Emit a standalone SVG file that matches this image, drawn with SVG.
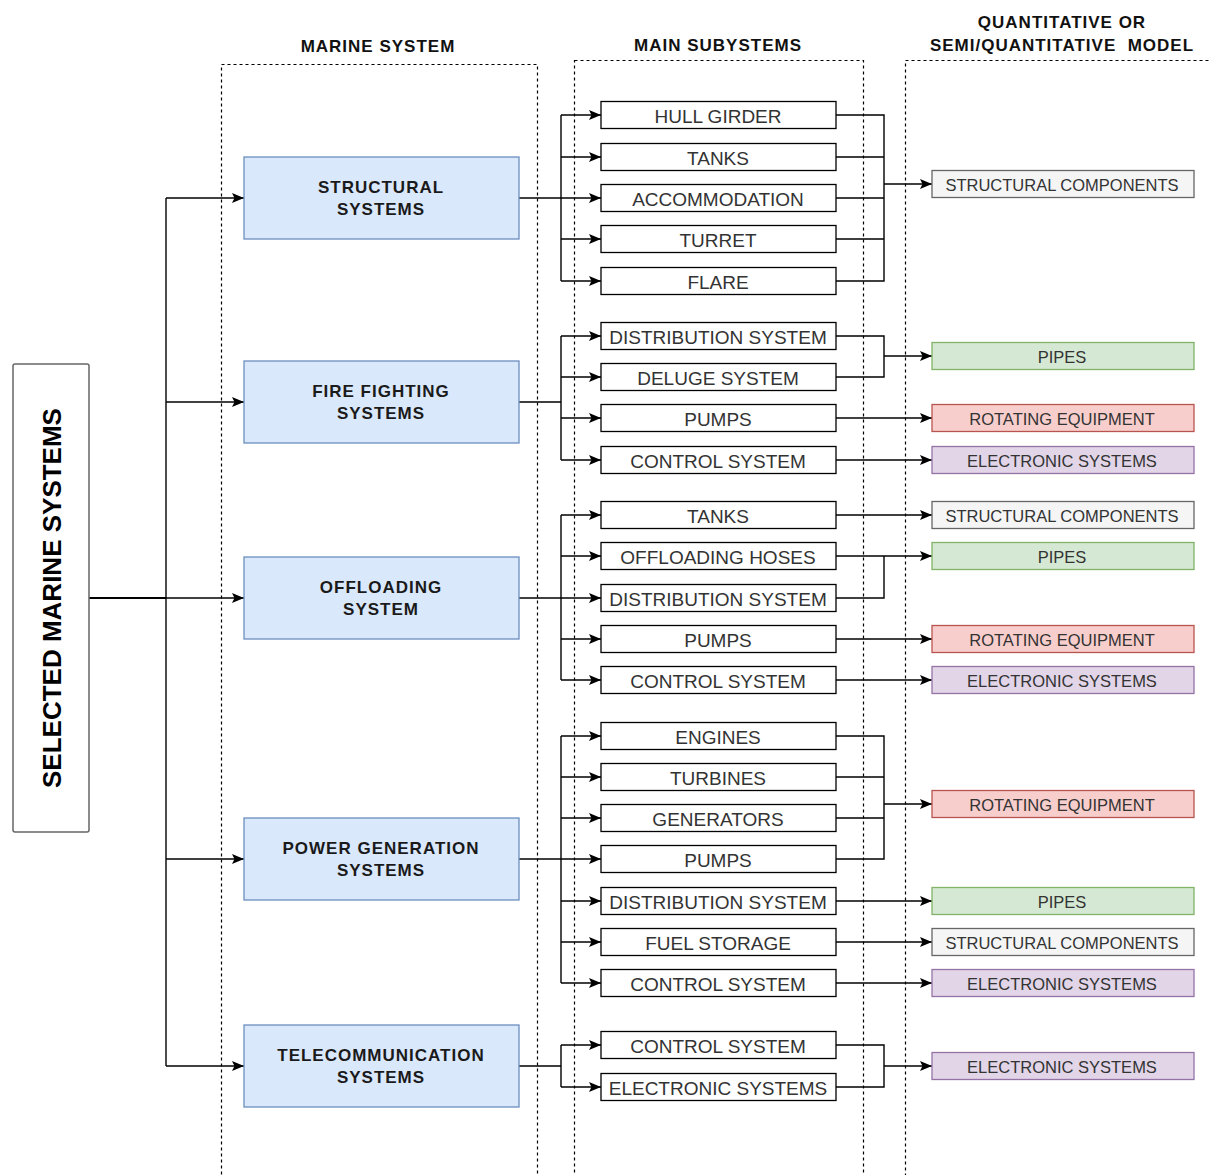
<svg xmlns="http://www.w3.org/2000/svg" width="1211" height="1175" viewBox="0 0 1211 1175">
  <defs>
    <marker id="arr" viewBox="0 0 12 10" refX="12" refY="5" markerWidth="12" markerHeight="10" orient="auto" markerUnits="userSpaceOnUse">
      <path d="M0,0 L12,5 L0,10 L2.5,5 Z" fill="#000"/>
    </marker>
    <style>
      .lane { fill: none; stroke: #000; stroke-width: 1.2; stroke-dasharray: 3 3; }
      .head { font-family: "Liberation Sans", Arial, sans-serif; font-size: 17px; font-weight: bold; letter-spacing: 1px; fill: #111; text-anchor: middle; white-space: pre; }
      .sys rect { fill: #dae8fc; stroke: #6c8ebf; stroke-width: 1.3; }
      .sys text { font-family: "Liberation Sans", Arial, sans-serif; font-size: 17px; font-weight: bold; letter-spacing: 1px; fill: #1a1a1a; text-anchor: middle; dominant-baseline: central; }
      .sub rect { fill: #fff; stroke: #000; stroke-width: 1.3; }
      .sub text { font-family: "Liberation Sans", Arial, sans-serif; font-size: 19px; fill: #333; text-anchor: middle; dominant-baseline: central; }
      .mdl text { font-family: "Liberation Sans", Arial, sans-serif; font-size: 16.5px; fill: #333; text-anchor: middle; dominant-baseline: central; }
      .grey rect { fill: #f5f5f5; stroke: #666; stroke-width: 1.3; }
      .green rect { fill: #d5e8d4; stroke: #82b366; stroke-width: 1.3; }
      .red rect { fill: #f8cecc; stroke: #b85450; stroke-width: 1.3; }
      .purple rect { fill: #e1d5e7; stroke: #9673a6; stroke-width: 1.3; }
      #connectors path { fill: none; stroke: #000; stroke-width: 1.4; }
      #connectors path.arrow { marker-end: url(#arr); }
    </style>
  </defs>

  <rect width="1211" height="1175" fill="#fff"/>

  <!-- column lanes -->
  <g id="lanes">
    <rect class="lane" x="221.5" y="64.5" width="316" height="1130"/>
    <rect class="lane" x="574.5" y="60.5" width="289" height="1134"/>
    <rect class="lane" x="905.5" y="60.5" width="330" height="1134"/>
    <text class="head" x="378" y="52">MARINE SYSTEM</text>
    <text class="head" x="718" y="51">MAIN SUBYSTEMS</text>
    <text class="head" x="1062" y="28">QUANTITATIVE OR</text>
    <text class="head" x="1062" y="51">SEMI/QUANTITATIVE  MODEL</text>
  </g>

  <!-- connectors -->
  <g id="connectors">
    <path d="M89,598 H166" style="stroke-width:2"/>
    <path d="M166,198 V1066"/>
    <path class="arrow" d="M166,198 H244"/>
    <path class="arrow" d="M166,402 H244"/>
    <path class="arrow" d="M166,598 H244"/>
    <path class="arrow" d="M166,859 H244"/>
    <path class="arrow" d="M166,1066 H244"/>

    <!-- structural -->
    <path class="arrow" d="M519,198 H601"/>
    <path d="M561,115 V281"/>
    <path class="arrow" d="M561,115 H601"/>
    <path class="arrow" d="M561,157 H601"/>
    <path class="arrow" d="M561,239 H601"/>
    <path class="arrow" d="M561,281 H601"/>
    <path d="M836,115 H884 V281 H836 M836,157 H884 M836,198 H884 M836,239 H884"/>
    <path class="arrow" d="M884,184 H932"/>

    <!-- fire fighting -->
    <path d="M519,402 H561 M561,336 V460"/>
    <path class="arrow" d="M561,336 H601"/>
    <path class="arrow" d="M561,377 H601"/>
    <path class="arrow" d="M561,418 H601"/>
    <path class="arrow" d="M561,460 H601"/>
    <path d="M836,336 H884 V377 H836"/>
    <path class="arrow" d="M884,356 H932"/>
    <path class="arrow" d="M836,418 H932"/>
    <path class="arrow" d="M836,460 H932"/>

    <!-- offloading -->
    <path class="arrow" d="M519,598 H601"/>
    <path d="M561,515 V680"/>
    <path class="arrow" d="M561,515 H601"/>
    <path class="arrow" d="M561,556 H601"/>
    <path class="arrow" d="M561,639 H601"/>
    <path class="arrow" d="M561,680 H601"/>
    <path class="arrow" d="M836,515 H932"/>
    <path class="arrow" d="M836,556 H932"/>
    <path d="M836,598 H884 V556"/>
    <path class="arrow" d="M836,639 H932"/>
    <path class="arrow" d="M836,680 H932"/>

    <!-- power generation -->
    <path class="arrow" d="M519,859 H601"/>
    <path d="M561,736 V983"/>
    <path class="arrow" d="M561,736 H601"/>
    <path class="arrow" d="M561,777 H601"/>
    <path class="arrow" d="M561,818 H601"/>
    <path class="arrow" d="M561,901 H601"/>
    <path class="arrow" d="M561,942 H601"/>
    <path class="arrow" d="M561,983 H601"/>
    <path d="M836,736 H884 V859 H836 M836,777 H884 M836,818 H884"/>
    <path class="arrow" d="M884,804 H932"/>
    <path class="arrow" d="M836,901 H932"/>
    <path class="arrow" d="M836,942 H932"/>
    <path class="arrow" d="M836,983 H932"/>

    <!-- telecommunication -->
    <path d="M519,1066 H561 M561,1045 V1087"/>
    <path class="arrow" d="M561,1045 H601"/>
    <path class="arrow" d="M561,1087 H601"/>
    <path d="M836,1045 H884 V1087 H836"/>
    <path class="arrow" d="M884,1066 H932"/>
  </g>

  <!-- root -->
  <g id="selected-marine-systems">
    <rect x="13" y="364" width="76" height="468" rx="2" fill="#fff" stroke="#666" stroke-width="1.5"/>
    <text x="52" y="598" transform="rotate(-90 52 598)" font-family="'Liberation Sans', Arial, sans-serif" font-size="26" font-weight="bold" fill="#000" text-anchor="middle" dominant-baseline="central">SELECTED MARINE SYSTEMS</text>
  </g>

  <!-- marine systems -->
  <g id="structural-systems" class="sys">
    <rect x="244" y="157" width="275" height="82"/>
    <text x="381" y="187">STRUCTURAL</text><text x="381" y="209">SYSTEMS</text>
  </g>
  <g id="fire-fighting-systems" class="sys">
    <rect x="244" y="361" width="275" height="82"/>
    <text x="381" y="391">FIRE FIGHTING</text><text x="381" y="413">SYSTEMS</text>
  </g>
  <g id="offloading-system" class="sys">
    <rect x="244" y="557" width="275" height="82"/>
    <text x="381" y="587">OFFLOADING</text><text x="381" y="609">SYSTEM</text>
  </g>
  <g id="power-generation-systems" class="sys">
    <rect x="244" y="818" width="275" height="82"/>
    <text x="381" y="848">POWER GENERATION</text><text x="381" y="870">SYSTEMS</text>
  </g>
  <g id="telecommunication-systems" class="sys">
    <rect x="244" y="1025" width="275" height="82"/>
    <text x="381" y="1055">TELECOMMUNICATION</text><text x="381" y="1077">SYSTEMS</text>
  </g>

  <!-- main subsystems -->
  <g id="s-hull" class="sub"><rect x="601" y="101.5" width="235" height="27"/><text x="718" y="116">HULL GIRDER</text></g>
  <g id="s-tanks" class="sub"><rect x="601" y="143.5" width="235" height="27"/><text x="718" y="158">TANKS</text></g>
  <g id="s-accommodation" class="sub"><rect x="601" y="184.5" width="235" height="27"/><text x="718" y="199">ACCOMMODATION</text></g>
  <g id="s-turret" class="sub"><rect x="601" y="225.5" width="235" height="27"/><text x="718" y="240">TURRET</text></g>
  <g id="s-flare" class="sub"><rect x="601" y="267.5" width="235" height="27"/><text x="718" y="282">FLARE</text></g>

  <g id="f-distribution" class="sub"><rect x="601" y="322.5" width="235" height="27"/><text x="718" y="337">DISTRIBUTION SYSTEM</text></g>
  <g id="f-deluge" class="sub"><rect x="601" y="363.5" width="235" height="27"/><text x="718" y="378">DELUGE SYSTEM</text></g>
  <g id="f-pumps" class="sub"><rect x="601" y="404.5" width="235" height="27"/><text x="718" y="419">PUMPS</text></g>
  <g id="f-control" class="sub"><rect x="601" y="446.5" width="235" height="27"/><text x="718" y="461">CONTROL SYSTEM</text></g>

  <g id="o-tanks" class="sub"><rect x="601" y="501.5" width="235" height="27"/><text x="718" y="516">TANKS</text></g>
  <g id="o-hoses" class="sub"><rect x="601" y="542.5" width="235" height="27"/><text x="718" y="557">OFFLOADING HOSES</text></g>
  <g id="o-distribution" class="sub"><rect x="601" y="584.5" width="235" height="27"/><text x="718" y="599">DISTRIBUTION SYSTEM</text></g>
  <g id="o-pumps" class="sub"><rect x="601" y="625.5" width="235" height="27"/><text x="718" y="640">PUMPS</text></g>
  <g id="o-control" class="sub"><rect x="601" y="666.5" width="235" height="27"/><text x="718" y="681">CONTROL SYSTEM</text></g>

  <g id="p-engines" class="sub"><rect x="601" y="722.5" width="235" height="27"/><text x="718" y="737">ENGINES</text></g>
  <g id="p-turbines" class="sub"><rect x="601" y="763.5" width="235" height="27"/><text x="718" y="778">TURBINES</text></g>
  <g id="p-generators" class="sub"><rect x="601" y="804.5" width="235" height="27"/><text x="718" y="819">GENERATORS</text></g>
  <g id="p-pumps" class="sub"><rect x="601" y="845.5" width="235" height="27"/><text x="718" y="860">PUMPS</text></g>
  <g id="p-distribution" class="sub"><rect x="601" y="887.5" width="235" height="27"/><text x="718" y="902">DISTRIBUTION SYSTEM</text></g>
  <g id="p-fuel" class="sub"><rect x="601" y="928.5" width="235" height="27"/><text x="718" y="943">FUEL STORAGE</text></g>
  <g id="p-control" class="sub"><rect x="601" y="969.5" width="235" height="27"/><text x="718" y="984">CONTROL SYSTEM</text></g>

  <g id="t-control" class="sub"><rect x="601" y="1031.5" width="235" height="27"/><text x="718" y="1046">CONTROL SYSTEM</text></g>
  <g id="t-electronic" class="sub"><rect x="601" y="1073.5" width="235" height="27"/><text x="718" y="1088">ELECTRONIC SYSTEMS</text></g>

  <!-- models -->
  <g id="m-structural-1" class="mdl grey"><rect x="932" y="170.5" width="262" height="27"/><text x="1062" y="185">STRUCTURAL COMPONENTS</text></g>
  <g id="m-pipes-1" class="mdl green"><rect x="932" y="342.5" width="262" height="27"/><text x="1062" y="357">PIPES</text></g>
  <g id="m-rotating-1" class="mdl red"><rect x="932" y="404.5" width="262" height="27"/><text x="1062" y="419">ROTATING EQUIPMENT</text></g>
  <g id="m-electronic-1" class="mdl purple"><rect x="932" y="446.5" width="262" height="27"/><text x="1062" y="461">ELECTRONIC SYSTEMS</text></g>

  <g id="m-structural-2" class="mdl grey"><rect x="932" y="501.5" width="262" height="27"/><text x="1062" y="516">STRUCTURAL COMPONENTS</text></g>
  <g id="m-pipes-2" class="mdl green"><rect x="932" y="542.5" width="262" height="27"/><text x="1062" y="557">PIPES</text></g>
  <g id="m-rotating-2" class="mdl red"><rect x="932" y="625.5" width="262" height="27"/><text x="1062" y="640">ROTATING EQUIPMENT</text></g>
  <g id="m-electronic-2" class="mdl purple"><rect x="932" y="666.5" width="262" height="27"/><text x="1062" y="681">ELECTRONIC SYSTEMS</text></g>

  <g id="m-rotating-3" class="mdl red"><rect x="932" y="790.5" width="262" height="27"/><text x="1062" y="805">ROTATING EQUIPMENT</text></g>
  <g id="m-pipes-3" class="mdl green"><rect x="932" y="887.5" width="262" height="27"/><text x="1062" y="902">PIPES</text></g>
  <g id="m-structural-3" class="mdl grey"><rect x="932" y="928.5" width="262" height="27"/><text x="1062" y="943">STRUCTURAL COMPONENTS</text></g>
  <g id="m-electronic-3" class="mdl purple"><rect x="932" y="969.5" width="262" height="27"/><text x="1062" y="984">ELECTRONIC SYSTEMS</text></g>

  <g id="m-electronic-4" class="mdl purple"><rect x="932" y="1052.5" width="262" height="27"/><text x="1062" y="1067">ELECTRONIC SYSTEMS</text></g>
</svg>
